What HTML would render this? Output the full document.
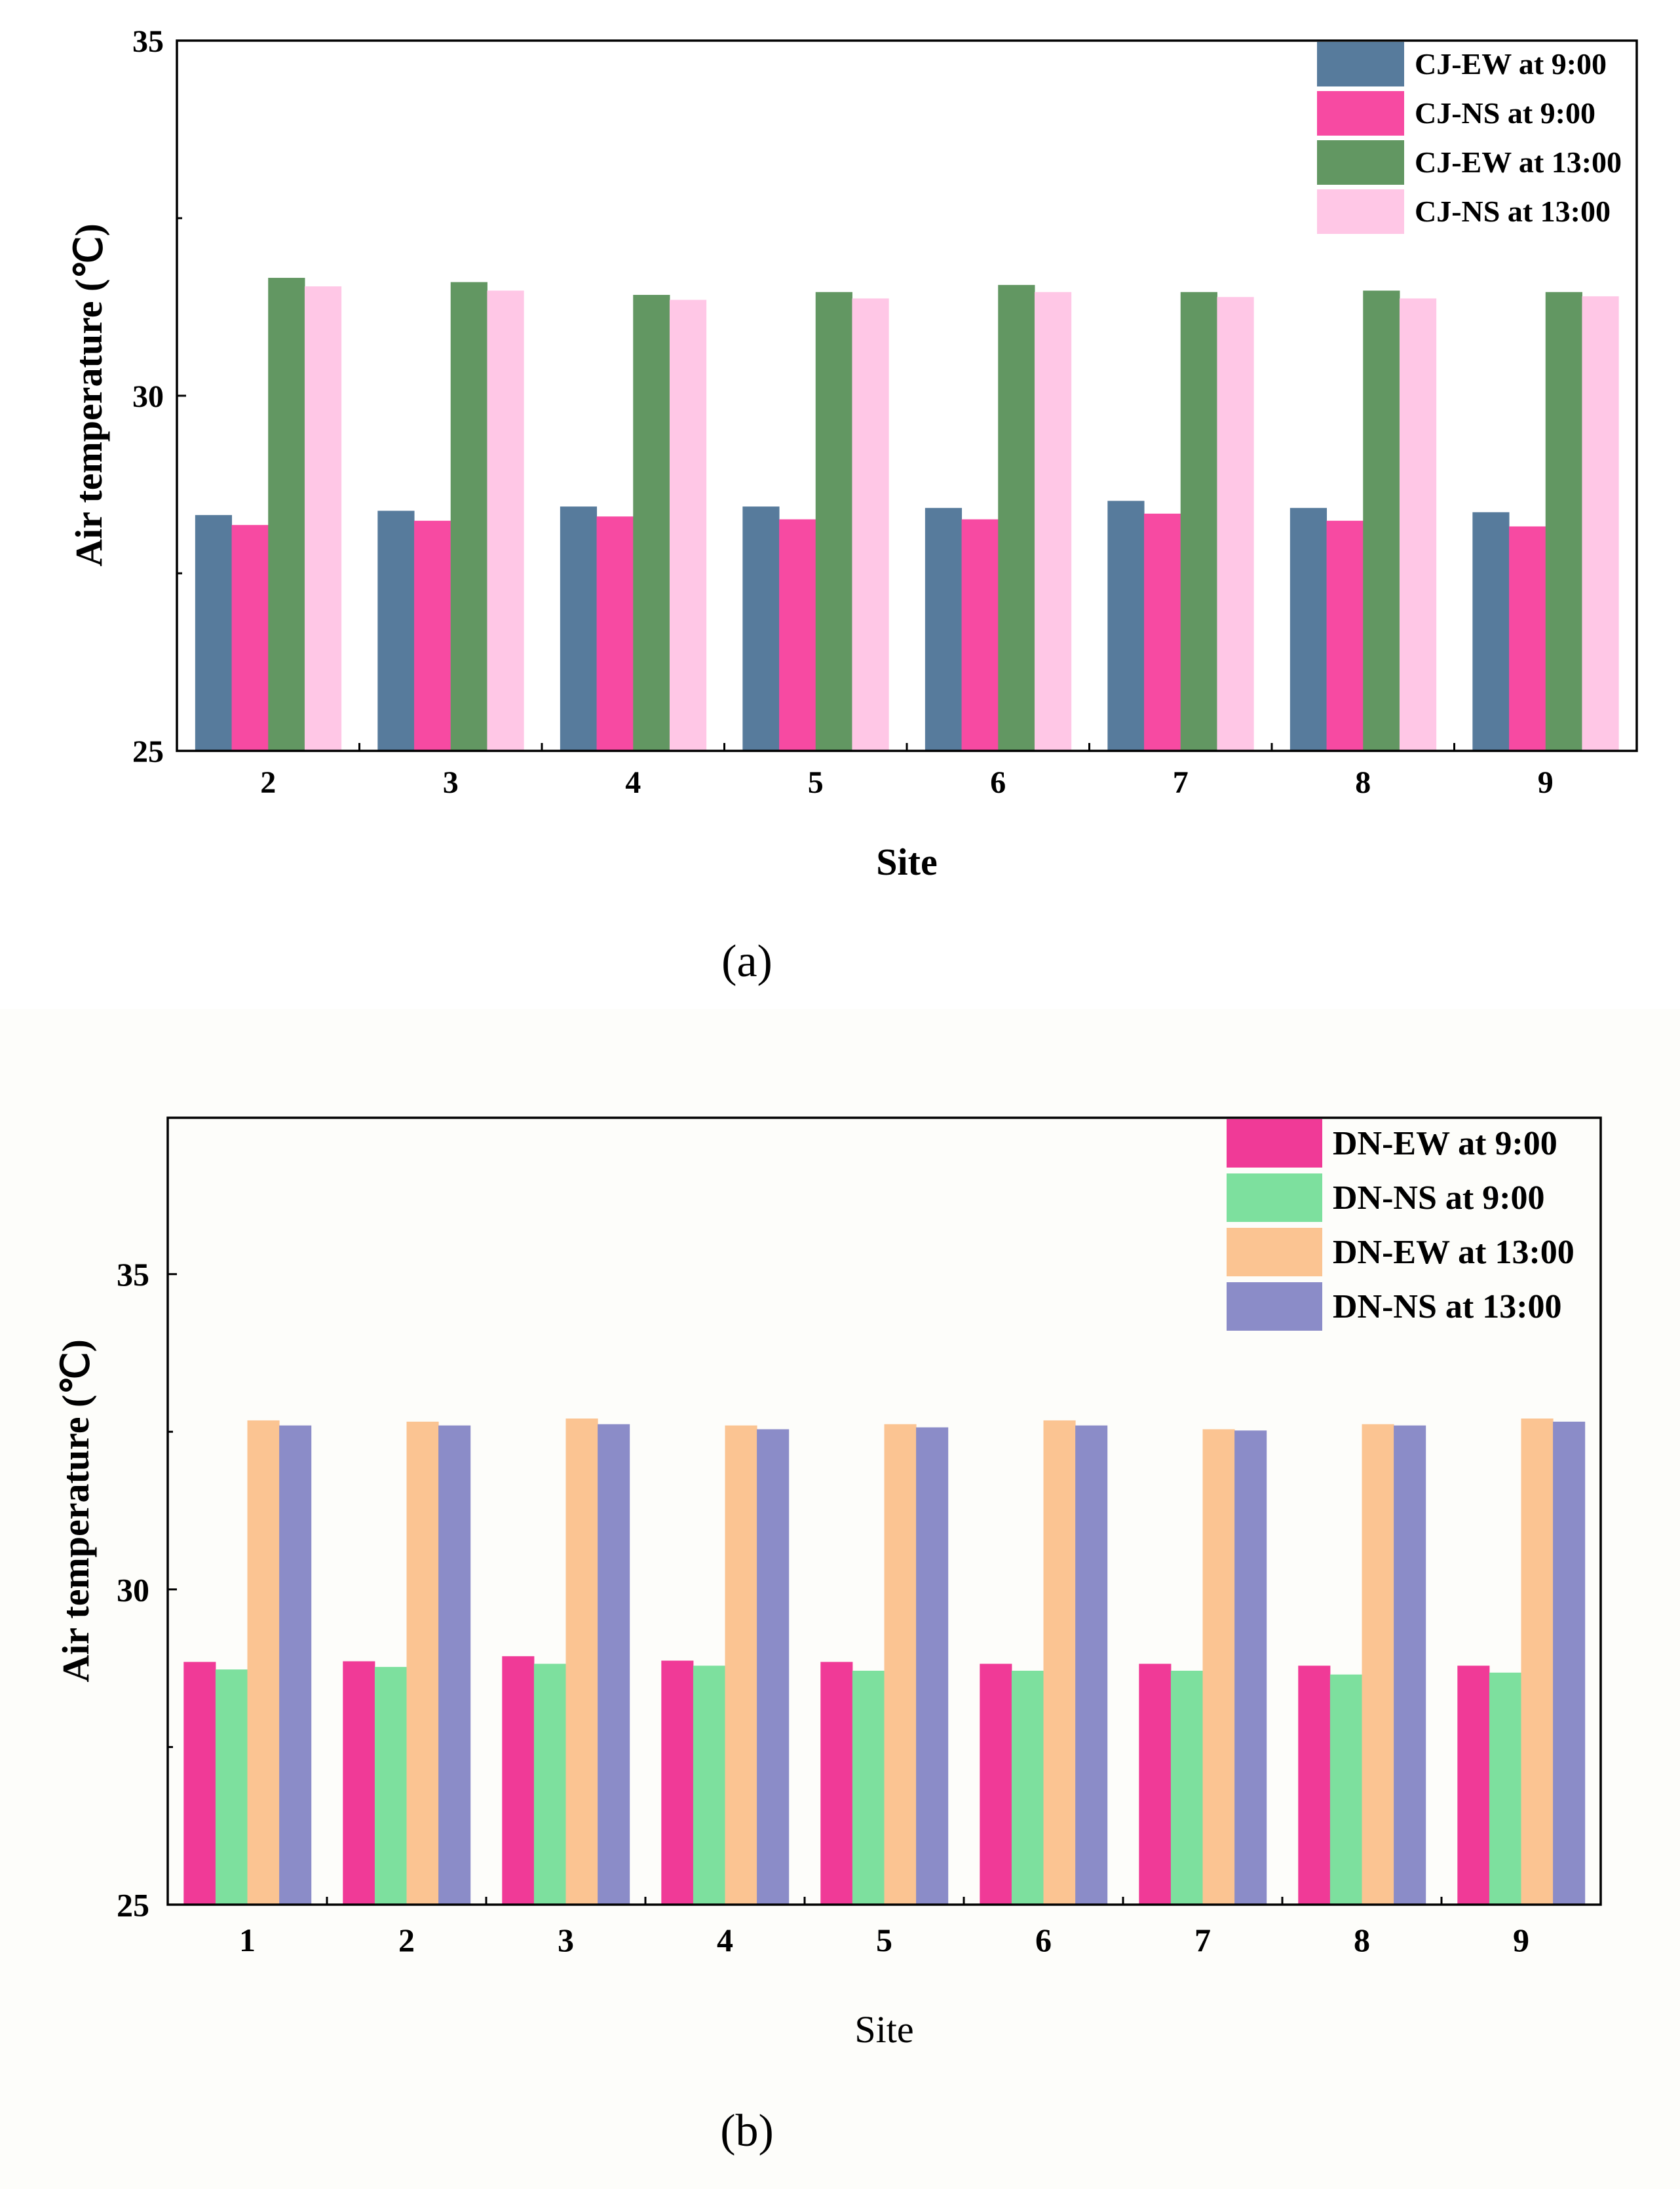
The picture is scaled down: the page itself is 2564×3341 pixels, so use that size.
<!DOCTYPE html>
<html><head><meta charset="utf-8">
<style>
html,body{margin:0;padding:0;background:#fff;}
svg{display:block;}
text{font-family:"Liberation Serif",serif;fill:#000;}
</style></head>
<body>
<svg id="svg" width="2564" height="3341" viewBox="0 0 2564 3341" xmlns="http://www.w3.org/2000/svg">
<rect x="0" y="1540" width="2564" height="1801" fill="#fdfdfa"/>
<g id="ga"></g>
<g id="gb"></g>
</svg>
<script>
const NS="http://www.w3.org/2000/svg";
// Chart a data
const catsA=["2","3","4","5","6","7","8","9"];
const seriesNamesA=["CJ-EW at 9:00","CJ-NS at 9:00","CJ-EW at 13:00","CJ-NS at 13:00"];
const cjEW9=[28.32,28.38,28.44,28.44,28.42,28.52,28.42,28.36];
const cjNS9=[28.18,28.24,28.30,28.26,28.26,28.34,28.24,28.16];
const cjEW13=[31.66,31.60,31.42,31.46,31.56,31.46,31.48,31.46];
const cjNS13=[31.54,31.48,31.35,31.37,31.46,31.39,31.37,31.40];
const yTicksA=[25,30,35];
// Chart b data
const catsB=["1","2","3","4","5","6","7","8","9"];
const seriesNamesB=["DN-EW at 9:00","DN-NS at 9:00","DN-EW at 13:00","DN-NS at 13:00"];
const dnEW9=[28.85,28.86,28.94,28.87,28.85,28.82,28.82,28.79,28.79];
const dnNS9=[28.73,28.77,28.82,28.79,28.71,28.71,28.71,28.65,28.68];
const dnEW13=[32.68,32.66,32.71,32.60,32.62,32.68,32.54,32.62,32.71];
const dnNS13=[32.60,32.60,32.62,32.54,32.57,32.60,32.52,32.60,32.66];
const yTicksB=[25,30,35];

function el(parent,tag,attrs,txt){const e=document.createElementNS(NS,tag);for(const k in attrs)e.setAttribute(k,attrs[k]);if(txt!==undefined)e.textContent=txt;parent.appendChild(e);return e;}

function chart(g,cfg){
  const {L,R,T,B,ymin,ymax,cats,series,colors,names,ticks,minor,id}=cfg;
  const ys=v=>B-(v-ymin)/(ymax-ymin)*(B-T);
  const band=(R-L)/cats.length, bw=band*0.8/series.length;
  const xc=i=>L+band*(i+0.5);
  cats.forEach((c,i)=>{
    series.forEach((s,j)=>{
      const x=xc(i)-band*0.4+j*bw, y=ys(s[i]);
      const r=el(g,'rect',{x:x,y:y,width:bw+0.5,height:B-y,fill:colors[j]});
      
      
    });
    const t=el(g,'text',{x:xc(i),y:cfg.xLabY,'font-size':cfg.tickFs,'font-weight':'bold','text-anchor':'middle'},c);
    
    
    if(i>0){const tk=el(g,'line',{x1:L+band*i,x2:L+band*i,y1:B,y2:B-12,stroke:'#000','stroke-width':3});
      }
  });
  ticks.forEach(v=>{
    const t=el(g,'text',{x:L-cfg.yLabGap,y:ys(v)+cfg.tickFs*0.35,'font-size':cfg.tickFs,'font-weight':'bold','text-anchor':'end'},String(v));
    
    
    const tk=el(g,'line',{x1:L,x2:L+14,y1:ys(v),y2:ys(v),stroke:'#000','stroke-width':3});
    
  });
  minor.forEach(v=>{const tk=el(g,'line',{x1:L,x2:L+8,y1:ys(v),y2:ys(v),stroke:'#000','stroke-width':3});
    });
  const fr=el(g,'rect',{x:L,y:T,width:R-L,height:B-T,fill:'none',stroke:'#000','stroke-width':3.5});
  
  // legend
  names.forEach((n,j)=>{
    const y=cfg.legT+j*cfg.legStep;
    const sw=el(g,'rect',{x:cfg.legX,y:y,width:cfg.legW,height:cfg.legH,fill:colors[j]});
    
    const t=el(g,'text',{x:cfg.legX+cfg.legW+16,y:y+cfg.legH*0.5+cfg.legFs*0.33,'font-size':cfg.legFs,'font-weight':'bold'},n);
    
  });
  const xt=el(g,'text',{x:(L+R)/2,y:cfg.xTitleY,'font-size':58,'font-weight':cfg.xTitleBold?'bold':'normal','text-anchor':'middle'},'Site');
  
  const yt=el(g,'text',{x:0,y:0,'font-size':58,'font-weight':'bold','text-anchor':'middle',transform:'translate('+cfg.yTitleX+','+cfg.yTitleY+') rotate(-90)'},'Air temperature (℃)');
  
  const pl=el(g,'text',{x:1140,y:cfg.panelY,'font-size':70,'text-anchor':'middle'},cfg.panel);
  
}
chart(document.getElementById('ga'),{id:'a',L:270,R:2498,T:62,B:1146,ymin:25,ymax:35,cats:catsA,
  series:[cjEW9,cjNS9,cjEW13,cjNS13],colors:['#577b9c','#f74aa2','#629762','#ffc7e6'],names:seriesNamesA,
  ticks:yTicksA,minor:[27.5,32.5],xLabY:1210,tickFs:48,yLabGap:20,legX:2010,legT:64,legStep:75,legW:133,legH:68,legFs:46,
  xTitleY:1335,xTitleBold:true,yTitleX:155,yTitleY:603,panel:'(a)',panelY:1490});
chart(document.getElementById('gb'),{id:'b',L:256,R:2443,T:1706,B:2907,ymin:25,ymax:37.48,cats:catsB,
  series:[dnEW9,dnNS9,dnEW13,dnNS13],colors:['#f03a97','#7de09e','#fbc492','#8b8cc8'],names:seriesNamesB,
  ticks:yTicksB,minor:[27.5,32.5],xLabY:2978,tickFs:50,yLabGap:28,legX:1872,legT:1708,legStep:83,legW:146,legH:74,legFs:52,
  xTitleY:3117,xTitleBold:false,yTitleX:135,yTitleY:2306,panel:'(b)',panelY:3275});
</script>
</body></html>
